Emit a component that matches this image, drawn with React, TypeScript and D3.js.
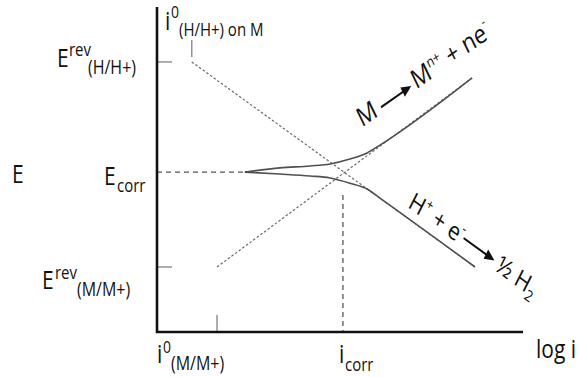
import React from "react";
import * as d3 from "d3";

const W = 583;
const H = 377;
const SY = 1.2; // vertical stretch of the lettering in the reference
const FONT = "'Open Sans', 'Noto Sans', sans-serif";

// ---- data (arbitrary units: x = log i, y = E) ----
const logIDomain = [0, 10];
const eDomain = [0, 10];
const potentialNames = ["Erev_H", "Ecorr", "Erev_M"];
const potentialValues = [8.31, 4.92, 2.0];
const currentNames = ["i0_H", "i0_M", "icorr"];
const currentValues = [0.95, 1.64, 5.08];
const cathodicTafelLogI = [0.95, 8.69];
const cathodicTafelE = [8.31, 2.0];
const anodicTafelLogI = [1.64, 8.61];
const anodicTafelE = [2.0, 7.82];
const anodicCurveLogI = [2.4, 3.36, 4.18, 4.73, 5.27, 5.74, 6.09, 8.61];
const anodicCurveE = [4.92, 5.05, 5.11, 5.17, 5.32, 5.51, 5.75, 7.82];
const cathodicCurveLogI = [2.4, 3.36, 4.18, 4.73, 5.27, 5.74, 6.09, 8.69];
const cathodicCurveE = [4.92, 4.86, 4.8, 4.74, 4.58, 4.4, 4.12, 2.0];

const pot = (n: string) => potentialValues[potentialNames.indexOf(n)];
const cur = (n: string) => currentValues[currentNames.indexOf(n)];

export default function App() {
  const x = d3.scaleLinear().domain(logIDomain).range([157, 523]);
  const y = d3.scaleLinear().domain(eDomain).range([332, 7]);

  const zip = (a: number[], b: number[]) => a.map((v, i) => [v, b[i]] as [number, number]);
  const straight = d3
    .line<[number, number]>()
    .x((d) => x(d[0]))
    .y((d) => y(d[1]));
  const smooth = d3
    .line<[number, number]>()
    .x((d) => x(d[0]))
    .y((d) => y(d[1]))
    .curve(d3.curveMonotoneX);

  const anodicAt = d3.scaleLinear().domain(anodicTafelLogI).range(anodicTafelE);
  const cathodicAt = d3.scaleLinear().domain(cathodicTafelLogI).range(cathodicTafelE);

  const x0 = x(logIDomain[0]);
  const y0 = y(eDomain[0]);

  const toLocal = (deg: number) =>
    (Math.atan(Math.tan((deg * Math.PI) / 180) / SY) * 180) / Math.PI;

  const aX = x(5.6);
  const aY = y(anodicAt(5.6)) - 32;
  const cX = x(6.83);
  const cY = y(cathodicAt(6.83)) - 11;

  const dotted = { stroke: "#6a6a6a", strokeWidth: 1.2, strokeDasharray: "2.5 2", fill: "none" };
  const dashed = { stroke: "#555", strokeWidth: 1.3, strokeDasharray: "5 4", fill: "none" };
  const tick = { stroke: "#8a8a8a", strokeWidth: 1.4 };

  const Lbl = ({ px, py, children }: { px: number; py: number; children: React.ReactNode }) => (
    <g transform={`translate(${px},${py}) scale(1,${SY})`}>
      <text fontFamily={FONT} fill="#111">
        {children}
      </text>
    </g>
  );

  return (
    <svg
      width={W}
      height={H}
      style={{ position: "absolute", left: 0, top: 0, background: "#fff" }}
    >
      {/* Tafel lines (dotted) */}
      <path d={straight(zip(cathodicTafelLogI, cathodicTafelE)) || ""} {...dotted} />
      <path d={straight(zip(anodicTafelLogI, anodicTafelE)) || ""} {...dotted} />

      {/* Ecorr & icorr guides */}
      <line x1={x0} x2={x(anodicCurveLogI[0])} y1={y(pot("Ecorr"))} y2={y(pot("Ecorr"))} {...dashed} />
      <line x1={x(cur("icorr"))} x2={x(cur("icorr"))} y1={y(pot("Ecorr")) + 23} y2={y0} {...dashed} />

      {/* ticks */}
      <line x1={x0} x2={x0 + 15} y1={y(pot("Erev_H"))} y2={y(pot("Erev_H"))} {...tick} />
      <line x1={x0} x2={x0 + 15} y1={y(pot("Erev_M"))} y2={y(pot("Erev_M"))} {...tick} />
      <line x1={x(cur("i0_M"))} x2={x(cur("i0_M"))} y1={y0 - 17} y2={y0} {...tick} />
      <line
        x1={x(cur("i0_H"))}
        x2={x(cur("i0_H"))}
        y1={y(pot("Erev_H")) - 22}
        y2={y(pot("Erev_H")) - 5}
        {...tick}
      />

      {/* measured polarization curves */}
      <path d={smooth(zip(anodicCurveLogI, anodicCurveE)) || ""} stroke="#505050" strokeWidth={1.6} fill="none" />
      <path d={smooth(zip(cathodicCurveLogI, cathodicCurveE)) || ""} stroke="#505050" strokeWidth={1.6} fill="none" />

      {/* axes */}
      <line x1={x0} x2={x0} y1={y(eDomain[1])} y2={y0 + 1} stroke="#111" strokeWidth={2.6} />
      <line x1={x0 - 1} x2={x(logIDomain[1])} y1={y0} y2={y0} stroke="#111" strokeWidth={2.6} />

      {/* axis labels */}
      <Lbl px={12} py={183}>
        <tspan fontSize={21}>E</tspan>
      </Lbl>
      <Lbl px={536} py={358}>
        <tspan fontSize={21}>log i</tspan>
      </Lbl>

      <Lbl px={57} py={67}>
        <tspan fontSize={21}>E</tspan>
        <tspan x={12} dy={-9} fontSize={15}>rev</tspan>
        <tspan x={31} dy={15} fontSize={16}>(H/H+)</tspan>
      </Lbl>
      <Lbl px={104} py={185}>
        <tspan fontSize={21}>E</tspan>
        <tspan x={13} dy={6} fontSize={15}>corr</tspan>
      </Lbl>
      <Lbl px={42} py={289}>
        <tspan fontSize={21}>E</tspan>
        <tspan x={13} dy={-8} fontSize={15}>rev</tspan>
        <tspan x={35} dy={14} fontSize={16}>(M/M+)</tspan>
      </Lbl>

      <Lbl px={165} py={30}>
        <tspan fontSize={21}>i</tspan>
        <tspan x={6} dy={-10} fontSize={14}>0</tspan>
        <tspan x={14} dy={15} fontSize={15}>(H/H+) on M</tspan>
      </Lbl>
      <Lbl px={157} py={363}>
        <tspan fontSize={21}>i</tspan>
        <tspan x={6} dy={-8} fontSize={14}>0</tspan>
        <tspan x={14} dy={14} fontSize={16}>(M/M+)</tspan>
      </Lbl>
      <Lbl px={339} py={363}>
        <tspan fontSize={21}>i</tspan>
        <tspan x={6} dy={7} fontSize={15}>corr</tspan>
      </Lbl>

      {/* anodic reaction label */}
      <g transform={`translate(${aX},${aY}) scale(1,${SY}) rotate(${-toLocal(35)})`} fontFamily={FONT} fill="#111">
        <text fontSize={22}>M</text>
        <line x1={25} x2={52} y1={-5} y2={-5} stroke="#111" strokeWidth={1.8} />
        <path d="M60,-5 L50,-9.5 L50,-0.5 Z" fill="#111" />
        <text x={63} fontSize={22}>
          M<tspan fontSize={12} dy={-9}>n+</tspan>
          <tspan fontSize={22} dy={9}>{"\u00A0+ ne"}</tspan>
          <tspan fontSize={12} dy={-11}>-</tspan>
        </text>
      </g>

      {/* cathodic reaction label */}
      <g transform={`translate(${cX},${cY}) scale(1,${SY}) rotate(${toLocal(36)})`} fontFamily={FONT} fill="#111">
        <text fontSize={21}>
          H<tspan fontSize={12} dy={-9}>+</tspan>
          <tspan fontSize={21} dy={9}>{"\u00A0+ e"}</tspan>
          <tspan fontSize={12} dy={-10}>-</tspan>
        </text>
        <line x1={62} x2={90} y1={-7} y2={-7} stroke="#111" strokeWidth={1.8} />
        <path d="M98,-7 L88,-11.5 L88,-2.5 Z" fill="#111" />
        <text x={102} fontSize={21}>
          {"\u00BD H"}
          <tspan fontSize={13} dy={5}>2</tspan>
        </text>
      </g>
    </svg>
  );
}
